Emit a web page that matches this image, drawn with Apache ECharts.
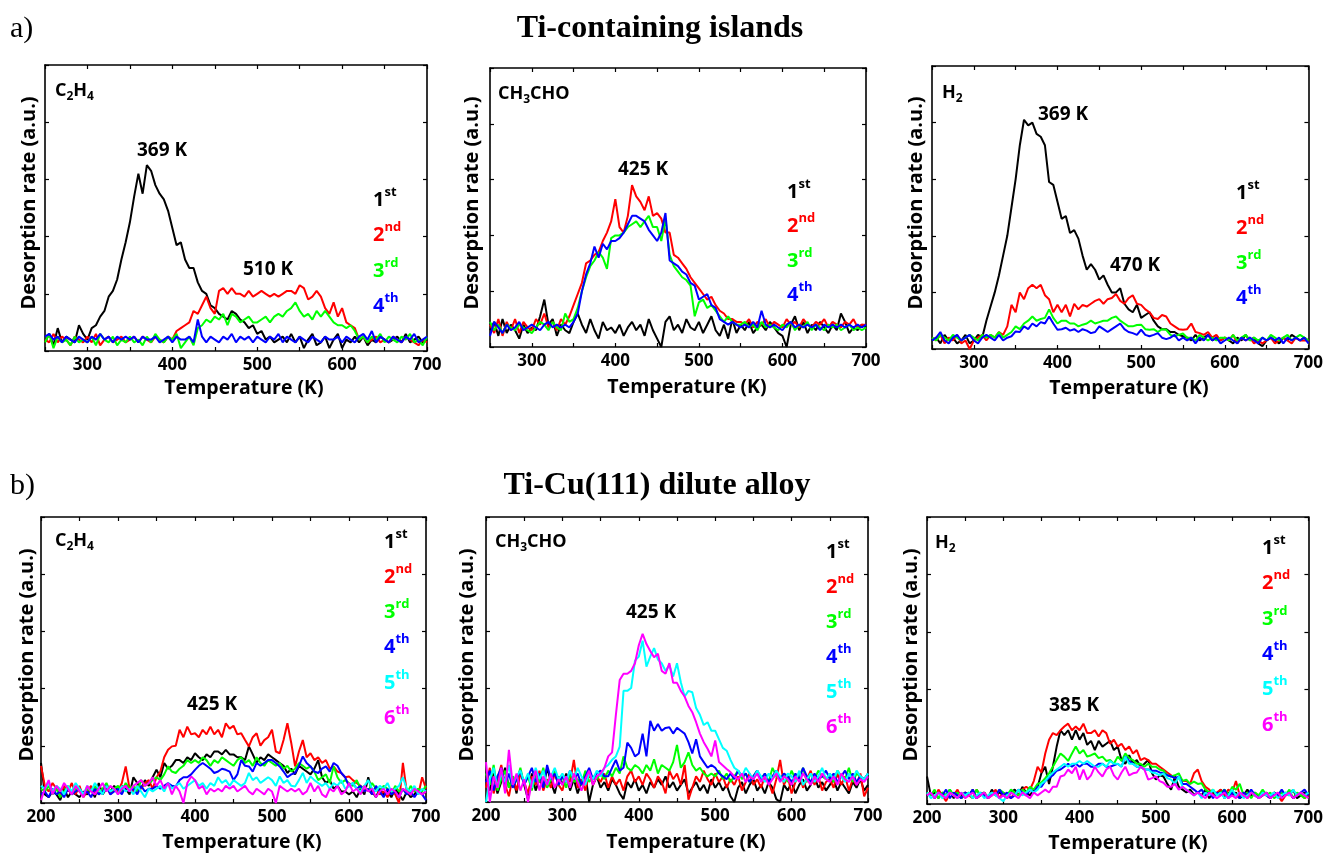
<!DOCTYPE html>
<html>
<head>
<meta charset="utf-8">
<script src="https://cdn.jsdelivr.net/npm/echarts@6/dist/echarts.min.js"></script>
<style>
  html, body { margin: 0; padding: 0; background: #ffffff; }
  #chart { width: 1326px; height: 854px; }
</style>
</head>
<body>
<div id="chart"></div>
<script>
// ---- Temperature grids (K) ----
const T_STEP = 5;
const T_END = 700;
const T_START_ISLANDS = 250;
const T_START_ALLOY = 200;

// ---- Run labels and colours ----
const runNumbers = ['1', '2', '3', '4', '5', '6'];
const runSuffixes = ['st', 'nd', 'rd', 'th', 'th', 'th'];
const runColors = ['#000000', '#ff0000', '#00ff00', '#0000ff', '#00ffff', '#ff00ff'];

// ---- Tick labels ----
const xTickLabels = [200, 300, 400, 500, 600, 700];

// ---- a) Ti-containing islands, C2H4 (250-700 K, 5 K steps) ----
const isl_C2H4_1 = [
  3, 6, 2, 8, 3, 5, 4, 3, 9, 6,
  4, 8, 9, 12, 14, 19, 21, 25, 32, 38,
  45, 54, 62, 55, 65, 63, 58, 55, 53, 49,
  43, 37, 38, 32, 29, 29, 24, 21, 20, 16,
  15, 13, 12, 11, 14, 13, 11, 10, 8, 9,
  6, 7, 4, 5, 3, 4, 5, 3, 6, 3,
  5, 1, 4, 6, 2, 3, 5, 1, 4, 6,
  1, 4, 3, 5, 3, 5, 2, 4, 3, 5,
  4, 3, 4, 5, 3, 6, 3, 4, 5, 3,
  4];
const isl_C2H4_2 = [
  4, 3, 6, 3, 5, 4, 2, 5, 4, 3,
  5, 3, 6, 2, 4, 5, 3, 4, 5, 3,
  4, 5, 3, 5, 4, 3, 5, 4, 3, 5,
  4, 7, 8, 9, 10, 14, 13, 16, 19, 15,
  13, 21, 22, 20, 22, 20, 20, 19, 21, 19,
  20, 21, 20, 19, 20, 19, 20, 21, 21, 20,
  23, 22, 18, 19, 21, 19, 15, 13, 17, 12,
  15, 10, 9, 8, 4, 5, 3, 4, 5, 3,
  4, 3, 5, 4, 3, 5, 4, 3, 2, 4,
  3];
const isl_C2H4_3 = [
  3, 6, 1, 5, 3, 4, 2, 5, 3, 4,
  3, 5, 2, 6, 4, 3, 5, 2, 4, 3,
  5, 3, 4, 2, 5, 3, 6, 4, 3, 5,
  4, 6, 1, 3, 5, 2, 8, 9, 11, 10,
  12, 11, 13, 9, 13, 12, 10, 11, 12, 10,
  10, 11, 12, 10, 12, 13, 12, 14, 15, 17,
  14, 12, 13, 11, 14, 12, 14, 12, 10, 9,
  9, 8, 9, 7, 4, 5, 3, 5, 4, 6,
  3, 5, 4, 3, 5, 4, 6, 3, 4, 2,
  5];
const isl_C2H4_4 = [
  5, 6, 4, 5, 3, 5, 4, 3, 5, 4,
  3, 5, 4, 6, 4, 5, 3, 5, 4, 5,
  4, 5, 3, 5, 4, 4, 5, 3, 4, 5,
  3, 5, 4, 4, 5, 3, 11, 5, 3, 5,
  4, 3, 5, 4, 6, 3, 5, 4, 5, 3,
  5, 4, 3, 5, 4, 6, 3, 5, 4, 3,
  5, 4, 3, 5, 4, 3, 5, 4, 4, 5,
  3, 5, 4, 3, 5, 6, 4, 7, 3, 5,
  4, 3, 5, 4, 3, 5, 4, 6, 3, 4,
  5];

// ---- a) Ti-containing islands, CH3CHO ----
const isl_CH3CHO_1 = [
  6, 9, 4, 10, 5, 8, 6, 3, 8, 5,
  7, 6, 11, 17, 8, 10, 4, 8, 6, 5,
  9, 12, 8, 5, 10, 6, 3, 9, 6, 7,
  5, 8, 4, 7, 9, 6, 8, 4, 10, 6,
  3, 0, 9, 11, 6, 8, 5, 10, 7, 6,
  9, 5, 8, 11, 6, 4, 8, 3, 10, 5,
  8, 6, 9, 5, 7, 8, 6, 9, 7, 5,
  4, 0, 8, 11, 6, 9, 5, 8, 6, 9,
  7, 5, 8, 6, 12, 9, 5, 7, 6, 8,
  7];
const isl_CH3CHO_2 = [
  8, 5, 10, 4, 9, 6, 10, 5, 9, 7,
  6, 10, 8, 12, 7, 9, 6, 10, 8, 11,
  15, 19, 23, 30, 31, 33, 34, 38, 41, 45,
  53, 43, 41, 47, 58, 54, 52, 49, 54, 47,
  48, 46, 41, 41, 33, 32, 30, 28, 25, 23,
  21, 19, 17, 18, 15, 13, 12, 10, 10, 9,
  9, 8, 10, 7, 9, 8, 10, 7, 9, 8,
  7, 10, 8, 9, 7, 10, 8, 7, 9, 8,
  10, 7, 9, 8, 7, 9, 8, 10, 7, 8,
  8];
const isl_CH3CHO_3 = [
  9, 6, 8, 5, 8, 7, 6, 8, 7, 6,
  5, 7, 9, 8, 6, 9, 7, 6, 12, 9,
  10, 14, 20, 25, 29, 31, 34, 32, 28, 39,
  40, 40, 41, 43, 44, 45, 43, 45, 47, 43,
  43, 38, 46, 33, 29, 27, 25, 24, 22, 11,
  16, 17, 14, 15, 13, 11, 9, 11, 9, 8,
  8, 9, 7, 8, 6, 9, 7, 8, 7, 6,
  8, 7, 9, 6, 8, 7, 9, 6, 8, 7,
  6, 8, 7, 8, 6, 7, 8, 6, 7, 6,
  7];
const isl_CH3CHO_4 = [
  4, 9, 7, 5, 8, 6, 7, 9, 6, 7,
  8, 7, 6, 8, 9, 7, 8, 7, 8, 7,
  9, 12, 20, 26, 30, 36, 32, 37, 35, 38,
  38, 39, 41, 44, 47, 47, 46, 45, 42, 40,
  38, 41, 48, 31, 30, 29, 27, 26, 23, 22,
  17, 18, 19, 15, 14, 10, 9, 8, 9, 8,
  7, 8, 7, 9, 7, 13, 8, 7, 8, 7,
  6, 8, 9, 7, 8, 7, 8, 7, 8, 6,
  8, 7, 8, 7, 8, 7, 8, 7, 8, 7,
  8];

// ---- a) Ti-containing islands, H2 ----
const isl_H2_1 = [
  3, 4, 2, 5, 3, 4, 2, 3, 5, 2,
  3, 5, 4, 10, 15, 20, 26, 33, 40, 50,
  60, 72, 81, 79, 80, 76, 75, 72, 59, 58,
  52, 46, 47, 41, 42, 39, 33, 28, 30, 28,
  24.5, 26, 22.7, 20, 20, 21.5, 16, 14, 13, 15.6,
  11, 12, 13, 10, 8, 7, 7, 6, 6, 5,
  4.5, 4, 3, 5, 3, 4, 5, 3, 4, 3,
  4, 3, 2, 4, 3, 5, 3, 4, 2, 1,
  3, 4, 3, 2, 4, 3, 5, 4, 3, 4,
  3];
const isl_H2_2 = [
  4, 3, 5, 2, 4, 3, 5, 2, 3, 0,
  3, 4, 5, 3, 5, 4, 6, 5, 8, 15.6,
  13, 20, 17.6, 21.5, 22.7, 21.5, 22.7, 19, 17.6, 13,
  15.6, 13, 15.6, 11.5, 16, 14, 15.6, 15, 16, 17,
  17.6, 16, 17.6, 18, 19.4, 17, 16, 18, 19, 16,
  15.6, 14, 13, 11, 10.6, 12, 11.5, 9, 8, 7,
  6.8, 7, 9, 6, 5.6, 5, 6, 4, 5, 3,
  4, 3, 5, 2, 4, 3, 4, 2, 3, 2,
  3, 4, 2, 3, 4, 3, 2, 4, 3, 3,
  3];
const isl_H2_3 = [
  4, 3, 5, 4, 3, 5, 4, 3, 4, 5,
  4, 3, 5, 4, 5, 4, 6, 4, 5, 6,
  8, 7, 9, 10, 11.5, 10, 10.6, 11, 14, 11,
  9, 10, 10, 9, 9, 8, 8.6, 9, 10, 9,
  9.5, 10, 10, 11, 11.5, 10, 9, 8, 8, 8.5,
  8.6, 7, 6.8, 7, 6, 7, 6.8, 5, 4.5, 5,
  5.5, 4, 4, 3, 5, 4, 3, 4, 3, 4,
  4, 3, 5, 3, 4, 5, 3, 4, 3, 4,
  3, 5, 4, 3, 4, 5, 3, 4, 5, 4,
  3];
const isl_H2_4 = [
  3, 4, 6, 3, 2, 4, 5, 3, 4, 5,
  3, 2, 4, 5, 4, 3, 5, 3, 4, 4.5,
  6.2, 6, 8, 7, 9, 8, 9.5, 9, 11.5, 9,
  6.8, 7, 7.5, 6.5, 7, 6, 7, 6.5, 5.6, 6,
  8, 7, 6, 7, 8, 9, 7, 6, 5.6, 5,
  6.8, 5, 4.5, 5, 5.6, 4, 3.5, 4, 5, 3,
  4, 3, 4, 2, 4, 3, 5, 3, 4, 2,
  3, 4, 3, 2, 4, 3, 4, 3, 2, 4,
  3, 4, 3, 4, 2, 4, 3, 4, 3, 4,
  2];

// ---- b) Ti-Cu(111) dilute alloy, C2H4 (200-700 K, 5 K steps) ----
const all_C2H4_1 = [
  14, 3, 2, 4, 3, 1, 5, 2, 4, 3,
  2, 4, 3, 5, 2, 7, 3, 5, 4, 6,
  4, 6, 5, 3, 9, 7, 5, 8, 6, 9,
  11.6, 9, 14, 12, 13, 15, 15, 14, 16, 15,
  17.4, 16, 15, 17, 16, 18, 18, 17, 18.6, 17,
  17, 16, 16, 15, 19.8, 17, 14, 16, 15, 17,
  16, 15, 14, 13, 10.5, 12, 10, 13, 12, 11,
  10, 12, 15, 9, 7, 8, 5, 6, 4, 4,
  3, 4, 2, 5, 3, 9, 4, 2, 5, 3,
  4, 2, 5, 3, 1, 4, 2, 3, 5, 3,
  4];
const all_C2H4_2 = [
  13, 6, 4, 7, 5, 3, 6, 4, 7, 3,
  6, 2, 4, 6, 3, 5, 4, 6, 3, 5,
  4, 7, 12.8, 5, 4, 6, 5, 7, 8, 5,
  9, 11, 16, 18.6, 19.8, 20, 25.6, 23, 26.7, 24,
  24.4, 23, 25.6, 24, 26.7, 24, 25.6, 23, 27.9, 26,
  27, 24, 24.4, 22, 19.8, 23, 24.4, 20, 22, 23,
  25.6, 18, 17.4, 22, 27.9, 21, 12.8, 18, 22, 16,
  17.4, 15, 16, 14, 15, 12, 12.8, 11, 10.5, 9,
  9.3, 8, 7, 6, 4, 5, 3, 5, 3, 4,
  2, 5, 3, 0, 14, 4, 3, 5, 3, 9,
  5];
const all_C2H4_3 = [
  5, 4, 6, 3, 5, 2, 4, 6, 3, 5,
  4, 3, 5, 4, 6, 3, 5, 7, 4, 5,
  6, 4, 7, 5, 6, 4, 8, 6, 7, 8,
  9, 8, 10, 12.8, 11, 10.5, 12, 13, 15, 14,
  15, 14, 16, 15, 13, 15, 14, 16, 15, 14,
  13, 15, 16, 14, 15, 13, 16, 14, 13, 15,
  14, 13, 14, 12, 13, 11, 12, 14, 13, 12,
  12.8, 11, 8, 9, 10, 7, 12.8, 9, 7, 8,
  7, 6, 8, 5, 6, 4, 7, 5, 4, 6,
  5, 3, 6, 4, 5, 3, 6, 4, 5, 4,
  6];
const all_C2H4_4 = [
  3, 4, 2, 5, 3, 4, 2, 5, 3, 4,
  5, 3, 4, 2, 5, 3, 4, 6, 3, 4,
  5, 3, 6, 4, 5, 3, 6, 4, 5, 5,
  6, 5, 6, 7, 6, 5.8, 8, 9, 9, 10,
  11.6, 13, 14, 13, 12, 10.5, 11, 12, 11.6, 11,
  8, 10, 15, 13, 12.8, 11, 14, 13, 14, 15,
  15, 14, 12.8, 11, 9, 10, 10.5, 13, 16.3, 14,
  12.8, 11, 10.5, 12, 12.8, 11, 14, 13, 10.5, 9,
  5.8, 7, 5, 6, 4, 5, 3, 6, 4, 2,
  5, 3, 4, 2, 5, 3, 4, 2, 4, 3,
  1];
const all_C2H4_5 = [
  6, 5, 7, 4, 6, 5, 3, 6, 4, 7,
  5, 3, 6, 4, 7, 5, 3, 6, 4, 5,
  3, 6, 4, 5, 3, 6, 4, 2, 5, 4,
  5, 6, 4, 7, 5, 6, 7, 5, 6, 7,
  8, 6, 7, 5, 7, 6, 9, 7, 8, 6,
  8, 7, 6, 7, 10.5, 8, 9, 7, 8, 9,
  8, 6, 9.3, 7, 8, 6, 5.8, 8, 10.5, 7,
  9.3, 8, 7, 6, 7, 5, 7, 6, 8, 5,
  5.8, 7, 5, 4, 6, 8, 5, 4, 6, 5,
  7, 4, 5, 6, 9, 5, 4, 6, 3, 5,
  4];
const all_C2H4_6 = [
  1, 5, 8, 3, 6, 4, 7, 5, 3, 6,
  4, 2, 6, 4, 3, 5, 7, 4, 6, 5,
  3, 5, 6, 4, 6, 7, 8, 6, 7, 9,
  6, 8, 5, 7, 3, 6, 4, 0, 7, 9.3,
  8, 5, 6, 3, 5, 4, 5, 4, 6, 5,
  6, 4, 5, 6, 4, 3, 5, 4, 3, 5,
  4, 0, 6, 5, 4, 5, 4, 5, 3, 4,
  7, 4, 6, 3, 2, 5, 4, 6, 3, 4,
  7, 4, 5, 3, 6, 4, 5, 2, 4, 5,
  3, 5, 4, 2, 5, 4, 3, 5, 4, 3,
  4];

// ---- b) Ti-Cu(111) dilute alloy, CH3CHO ----
const all_CH3CHO_1 = [
  8, 4, 10, 3, 7, 12, 5, 9, 3, 11,
  6, 1, 10, 4, 8, 5, 12, 7, 3, 9,
  6, 10, 4, 8, 3, 7, 10, 0, 6, 9,
  5, 7, 4, 8, 6, 3, 1, 7, 5, 8,
  4, 6, 3, 7, 5, 8, 6, 9, 5, 7,
  4, 6, 8, 3, 5, 7, 4, 6, 3, 8,
  5, 7, 4, 6, 2, 0, 5, 7, 3, 6,
  8, 4, 6, 3, 7, 5, 1, 0, 6, 4,
  7, 3, 6, 8, 4, 6, 9, 5, 7, 4,
  6, 8, 4, 7, 5, 3, 7, 5, 8, 4,
  6];
const all_CH3CHO_2 = [
  5, 12, 3, 8, 13, 6, 2, 9, 4, 10,
  7, 3, 9, 6, 11, 4, 8, 5, 10, 6,
  4, 9, 7, 14.8, 5, 8, 4, 10, 6, 9,
  7, 10, 5, 9, 6, 8, 4, 9, 11, 7,
  9, 6, 10, 8, 5, 9, 7, 3, 11, 8,
  10, 6, 13, 0.8, 5, 9, 7, 11, 8, 6,
  10, 7, 9, 5, 8, 6, 9, 4, 7, 10,
  6, 8, 5, 9, 7, 3, 8, 14.8, 6, 9,
  3, 7, 10, 5, 8, 11, 6, 9, 4, 7,
  8, 5, 10, 6, 9, 4, 8, 6, 10, 2,
  5];
const all_CH3CHO_3 = [
  10, 6, 13, 4, 8, 11, 5, 9, 7, 12,
  6, 9, 4, 10, 7, 12, 5, 8, 11, 6,
  9, 5, 10, 7, 8, 6, 11, 7, 9, 8,
  10, 8, 11, 9, 12, 10, 16, 12, 11, 13,
  12, 10, 13, 11, 15, 10, 13, 12, 11, 14,
  20, 12, 14, 17.4, 13, 11, 12, 10, 9, 10,
  9, 11, 8, 10, 7, 9, 11, 8, 10, 7,
  9, 11, 8, 10, 7, 12, 9, 8, 10, 7,
  11, 8, 9, 12, 7, 10, 8, 11, 9, 8,
  10, 7, 11, 9, 8, 12, 7, 10, 9, 8,
  10];
const all_CH3CHO_4 = [
  7, 11, 4, 9, 12, 6, 10, 5, 8, 11,
  6, 9, 12, 7, 10, 5, 13, 8, 10, 6,
  9, 7, 11, 8, 10, 6, 9, 12, 8, 10,
  11, 9, 9, 12, 14.8, 11, 12, 20.8, 19, 16,
  17, 24, 16, 28.5, 25, 27.4, 25, 26, 26.2, 24,
  26, 25, 24, 21, 17, 22, 16, 14, 12, 13,
  12, 10, 9, 8, 10, 8, 11, 9, 10, 7,
  9, 11, 8, 10, 7, 9, 11, 8, 10, 9,
  7, 10, 8, 12, 9, 7, 10, 8, 9, 11,
  8, 10, 7, 9, 11, 8, 10, 7, 9, 8,
  10];
const all_CH3CHO_5 = [
  0, 8, 12, 5, 10, 7, 13, 6, 9, 11,
  7, 10, 5, 12, 8, 11, 6, 9, 12, 8,
  10, 7, 11, 8, 12, 9, 6, 10, 8, 11,
  9, 12, 13, 14.8, 16, 19.4, 39, 39, 40, 49.6,
  51, 56.6, 47.5, 51, 54, 50, 48.7, 46, 48, 44,
  48.7, 42, 37, 39, 38.5, 33, 30.6, 27, 28, 25,
  25, 22, 19, 18, 14.8, 12, 11, 9, 12, 10,
  8, 11, 9, 7, 10, 8, 11, 9, 7, 10,
  9, 7, 11, 6, 8, 10, 7, 9, 12, 8,
  10, 8, 11, 9, 7, 10, 8, 11, 9, 8,
  10];
const all_CH3CHO_6 = [
  14, 0, 9, 5, 12, 3, 18.3, 6, 10, 4,
  8, 0, 7, 11, 4, 9, 6, 10, 5, 8,
  6, 9, 5, 10, 7, 4, 8, 11, 6, 9,
  10, 12, 16, 17.4, 30.6, 42.8, 45, 45, 46, 48.7,
  55, 59, 55.4, 53, 50.8, 52, 46, 45, 48.7, 41.8,
  41.8, 39, 37, 33.7, 31.5, 28, 24, 21, 18.7, 16,
  21.6, 14, 12.8, 11.6, 10.5, 9, 8, 10, 7, 9,
  8, 10, 7, 9, 6, 8, 10, 7, 9, 8,
  6, 9, 7, 10, 8, 6, 9, 7, 10, 8,
  7, 9, 6, 10, 8, 7, 9, 6, 8, 7,
  9];

// ---- b) Ti-Cu(111) dilute alloy, H2 ----
const all_H2_1 = [
  9.6, 3, 4, 2, 4, 3, 5, 2, 4, 3,
  4, 3, 5, 2, 3, 4, 2, 5, 3, 4,
  3, 2, 4, 5, 3, 6, 4, 3, 5, 6,
  10.7, 13, 7, 13, 20, 25.7, 24, 25.7, 22.4, 25.7,
  22.4, 24.7, 20.6, 22, 18.8, 22, 20, 21, 22, 18.8,
  20, 15.3, 14, 17, 14, 15.3, 13, 14, 15.3, 10.7,
  8.5, 10, 9.6, 7, 5, 9.6, 6, 5, 4, 5,
  3.3, 4, 3, 5, 2, 4, 3, 5, 2, 4,
  3, 4, 2, 3, 5, 3, 4, 2, 3, 4,
  2, 4, 3, 2, 4, 3, 5, 2, 3, 4,
  3];
const all_H2_2 = [
  3, 4, 2, 5, 3, 1, 4, 3, 5, 2,
  4, 3, 2, 5, 3, 4, 2, 3, 5, 2,
  4, 3, 2, 4, 3, 5, 6, 5, 8, 13,
  11, 17.6, 22.4, 24.7, 24, 25.7, 27, 28, 25.7, 27,
  25.7, 28, 24.7, 24.7, 25.7, 23.5, 25.7, 24.7, 21, 22.4,
  20, 21, 18.8, 20, 17.6, 18.8, 15.3, 16, 15.3, 14,
  14, 13, 12, 11, 10, 9, 9, 8, 8, 7,
  10.7, 12, 8, 6, 5, 3, 4, 5, 3, 5,
  4, 8, 3, 4, 2, 4, 3, 2, 4, 3,
  2, 4, 3, 1, 3, 4, 2, 3, 4, 2,
  3];
const all_H2_3 = [
  4, 3, 5, 2, 4, 3, 5, 3, 4, 2,
  3, 4, 2, 5, 3, 4, 2, 4, 3, 5,
  4, 3, 5, 4, 3, 5, 4, 6, 5, 7,
  7.5, 9, 10.7, 13, 15.3, 17.6, 16.5, 15, 17.6, 20,
  17.6, 18.8, 16.5, 17, 17.6, 16, 16.5, 15, 15.3, 14,
  16.5, 15, 17.6, 16, 15.3, 14, 14, 13, 14, 13,
  13, 12, 11.6, 10, 9.6, 10, 10.7, 8, 8.5, 7,
  7.8, 7, 7.2, 5, 4, 5, 3, 4, 5, 3,
  6, 5, 7, 3, 4, 2, 4, 3, 5, 3,
  4, 2, 3, 4, 3, 5, 2, 4, 3, 2,
  4];
const all_H2_4 = [
  3, 4, 2, 4, 3, 5, 2, 4, 3, 2,
  4, 3, 5, 2, 4, 3, 2, 4, 3, 5,
  3, 4, 2, 3, 5, 4, 3, 5, 4, 6,
  6, 8, 9, 10, 11.6, 12, 13, 14, 13, 14,
  13, 14, 14, 13, 13, 14, 14, 13, 13, 13.5,
  14, 13, 16.5, 15, 14, 13, 13, 12, 12, 11.6,
  11.6, 11, 10.7, 10, 9.6, 9, 9.6, 7, 7, 6,
  5, 4, 5, 3, 4, 2, 4, 3, 5, 2,
  4, 3, 2, 4, 3, 5, 3, 2, 4, 3,
  2, 4, 3, 5, 3, 4, 2, 3, 4, 5,
  3];
const all_H2_5 = [
  4, 2, 3, 4, 2, 3, 4, 3, 2, 4,
  3, 4, 2, 3, 4, 2, 3, 4, 3, 2,
  1, 3, 4, 3, 5, 3, 4, 5, 4, 5,
  7, 8, 9.6, 11, 12, 13, 14, 13, 14, 14,
  15, 14, 15, 14, 13, 13, 14, 13, 15, 14,
  14, 13, 16.5, 14, 14, 13, 13, 12, 12, 11,
  10.7, 10, 10.7, 9, 8.5, 7, 9.6, 6, 5, 4,
  3, 4, 2, 4, 3, 5, 3, 4, 2, 3,
  5, 3, 4, 2, 3, 4, 3, 2, 4, 3,
  3, 4, 2, 3, 4, 3, 5, 3, 4, 3,
  4];
const all_H2_6 = [
  3, 4, 2, 4, 3, 2, 4, 3, 2, 4,
  2, 3, 4, 2, 3, 4, 2, 3, 4, 2,
  3, 2, 4, 3, 2, 4, 3, 2, 4, 3,
  4, 5, 4, 6, 6, 9.6, 10, 12, 10.7, 13,
  8.5, 12, 8.5, 10, 13, 11, 9.6, 12, 13, 10,
  8.5, 11, 13, 10, 10.7, 11, 13, 12, 8.5, 9,
  9.6, 8, 7.4, 6, 6, 7, 5, 6, 4.9, 4,
  3, 4, 3, 2, 4, 3, 2, 3, 4, 2,
  3, 2, 4, 3, 2, 4, 3, 2, 3, 4,
  2, 3, 4, 2, 3, 4, 2, 3, 4, 3,
  2];

// ---- Peak temperature annotations (K) ----
const peaks_isl_C2H4 = ['369 K', '510 K'];
const peaks_isl_CH3CHO = ['425 K'];
const peaks_isl_H2 = ['369 K', '470 K'];
const peaks_all_C2H4 = ['425 K'];
const peaks_all_CH3CHO = ['425 K'];
const peaks_all_H2 = ['385 K'];

// ---------------------------------------------------------------
// Layout of the six panels (pixels) and their text placement
const FONT = '"Open Sans"';
const panels = [
  { left: 45, top: 65, w: 382, h: 286, tmin: T_START_ISLANDS,
    runs: [isl_C2H4_1, isl_C2H4_2, isl_C2H4_3, isl_C2H4_4],
    species: [['C', 0], ['2', 1], ['H', 0], ['4', 1]], spX: 55, spY: 91,
    legX: 373, legY: 200, legDy: 35.5,
    peaks: peaks_isl_C2H4, peakPos: [[162, 151], [268, 270]],
    xName: [244, 388], yName: [29, 203] },
  { left: 490, top: 68, w: 376, h: 279, tmin: T_START_ISLANDS,
    runs: [isl_CH3CHO_1, isl_CH3CHO_2, isl_CH3CHO_3, isl_CH3CHO_4],
    species: [['CH', 0], ['3', 1], ['CHO', 0]], spX: 498, spY: 94,
    legX: 787, legY: 192, legDy: 34.5,
    peaks: peaks_isl_CH3CHO, peakPos: [[643, 170]],
    xName: [687, 387], yName: [472, 203] },
  { left: 932, top: 66, w: 377, h: 283, tmin: T_START_ISLANDS,
    runs: [isl_H2_1, isl_H2_2, isl_H2_3, isl_H2_4],
    species: [['H', 0], ['2', 1]], spX: 942, spY: 93,
    legX: 1236, legY: 193, legDy: 35,
    peaks: peaks_isl_H2, peakPos: [[1063, 115], [1135, 266]],
    xName: [1129, 388], yName: [916, 203] },
  { left: 41, top: 517, w: 385, h: 286, tmin: T_START_ALLOY,
    runs: [all_C2H4_1, all_C2H4_2, all_C2H4_3, all_C2H4_4, all_C2H4_5, all_C2H4_6],
    species: [['C', 0], ['2', 1], ['H', 0], ['4', 1]], spX: 55, spY: 541,
    legX: 384, legY: 542, legDy: 35.2,
    peaks: peaks_all_C2H4, peakPos: [[212, 705]],
    xName: [242, 842], yName: [27, 655] },
  { left: 486, top: 517, w: 382, h: 285, tmin: T_START_ALLOY,
    runs: [all_CH3CHO_1, all_CH3CHO_2, all_CH3CHO_3, all_CH3CHO_4, all_CH3CHO_5, all_CH3CHO_6],
    species: [['CH', 0], ['3', 1], ['CHO', 0]], spX: 495, spY: 542,
    legX: 826, legY: 552, legDy: 35,
    peaks: peaks_all_CH3CHO, peakPos: [[651, 613]],
    xName: [686, 842], yName: [467, 655] },
  { left: 927, top: 517, w: 385, h: 287, tmin: T_START_ALLOY,
    runs: [all_H2_1, all_H2_2, all_H2_3, all_H2_4, all_H2_5, all_H2_6],
    species: [['H', 0], ['2', 1]], spX: 935, spY: 543,
    legX: 1262, legY: 548, legDy: 35.4,
    peaks: peaks_all_H2, peakPos: [[1074, 706]],
    xName: [1128, 843], yName: [911, 655] }
];

// text width measurement for composing super/subscripts
const measureCtx = document.createElement('canvas').getContext('2d');
function textWidth(t, size, weight) {
  measureCtx.font = `${weight} ${size}px ${FONT}`;
  return measureCtx.measureText(t).width;
}
function textEl(t, x, y, opts) {
  const o = Object.assign({ size: 17, weight: 'bold', color: '#000', align: 'left', valign: 'middle', family: FONT, rotation: 0 }, opts || {});
  return {
    type: 'text', x: x, y: y, rotation: o.rotation, z: 100, silent: true,
    style: {
      text: t, fill: o.color,
      font: `${o.weight} ${o.size}px ${o.family}`,
      align: o.align, verticalAlign: o.valign,
      textAlign: o.align, textVerticalAlign: o.valign
    }
  };
}
// run of text pieces; each piece is [text, size, dy]
function composite(pieces, x, y, color) {
  const out = [];
  let cx = x;
  pieces.forEach(([t, size, dy]) => {
    out.push(textEl(t, cx, y + dy, { size: size, color: color }));
    cx += textWidth(t, size, 'bold');
  });
  return out;
}

const grids = [], xAxes = [], yAxes = [], series = [], graphics = [];

panels.forEach((p, i) => {
  grids.push({ left: p.left, top: p.top, width: p.w, height: p.h, show: false });

  const common = {
    gridIndex: i, type: 'value', min: p.tmin, max: T_END, interval: 50,
    axisLine: { show: true, onZero: false, lineStyle: { color: '#000', width: 1.6 } },
    axisTick: { show: true, inside: true, length: 4, lineStyle: { color: '#000', width: 1.2 } },
    splitLine: { show: false }
  };
  xAxes.push(Object.assign({}, common, {
    position: 'bottom',
    axisLabel: {
      margin: 6, color: '#000', fontFamily: 'Open Sans', fontWeight: 'bold', fontSize: 17,
      formatter: v => (xTickLabels.indexOf(v) >= 0 ? String(v) : '')
    }
  }));
  xAxes.push(Object.assign({}, common, { position: 'top', axisLabel: { show: false } }));

  const yCommon = {
    gridIndex: i, type: 'value', min: 0, max: 100, interval: 20,
    axisLine: { show: true, onZero: false, lineStyle: { color: '#000', width: 1.6 } },
    axisTick: { show: true, inside: true, length: 4, lineStyle: { color: '#000', width: 1.2 } },
    axisLabel: { show: false }, splitLine: { show: false }
  };
  yAxes.push(Object.assign({}, yCommon, { position: 'left' }));
  yAxes.push(Object.assign({}, yCommon, { position: 'right' }));

  p.runs.forEach((vals, k) => {
    series.push({
      type: 'line', xAxisIndex: 2 * i, yAxisIndex: 2 * i,
      data: vals.map((v, j) => [p.tmin + j * T_STEP, v]),
      showSymbol: false, symbol: 'none', silent: true, animation: false,
      lineStyle: { color: runColors[k], width: 2 },
      itemStyle: { color: runColors[k] }
    });
    // run label, e.g. 1st
    graphics.push(...composite([[runNumbers[k], 20, 0], [runSuffixes[k], 13, -8]],
      p.legX, p.legY + k * p.legDy, runColors[k]));
  });

  // species label with subscripts
  graphics.push(...composite(p.species.map(([t, sub]) => sub ? [t, 12, 6] : [t, 18, 0]),
    p.spX, p.spY, '#000'));

  // peak temperature labels
  p.peaks.forEach((t, k) => {
    graphics.push(textEl(t, p.peakPos[k][0], p.peakPos[k][1], { size: 19, align: 'center' }));
  });

  // axis titles
  graphics.push(textEl('Temperature (K)', p.xName[0], p.xName[1], { size: 19.5, align: 'center' }));
  graphics.push(textEl('Desorption rate (a.u.)', p.yName[0], p.yName[1],
    { size: 20, align: 'center', rotation: Math.PI / 2 }));
});

// section headings
const SERIF = '"Liberation Serif", "Times New Roman", serif';
graphics.push(textEl('a)', 10, 29, { size: 30, weight: 'normal', family: SERIF }));
graphics.push(textEl('Ti-containing islands', 660, 29, { size: 32, align: 'center', family: SERIF }));
graphics.push(textEl('b)', 10, 486, { size: 30, weight: 'normal', family: SERIF }));
graphics.push(textEl('Ti-Cu(111) dilute alloy', 657, 486, { size: 32, align: 'center', family: SERIF }));

const chart = echarts.init(document.getElementById('chart'), null, { renderer: 'canvas' });
chart.setOption({
  backgroundColor: '#ffffff',
  animation: false,
  grid: grids,
  xAxis: xAxes,
  yAxis: yAxes,
  series: series,
  graphic: { elements: graphics }
});
</script>
</body>
</html>
